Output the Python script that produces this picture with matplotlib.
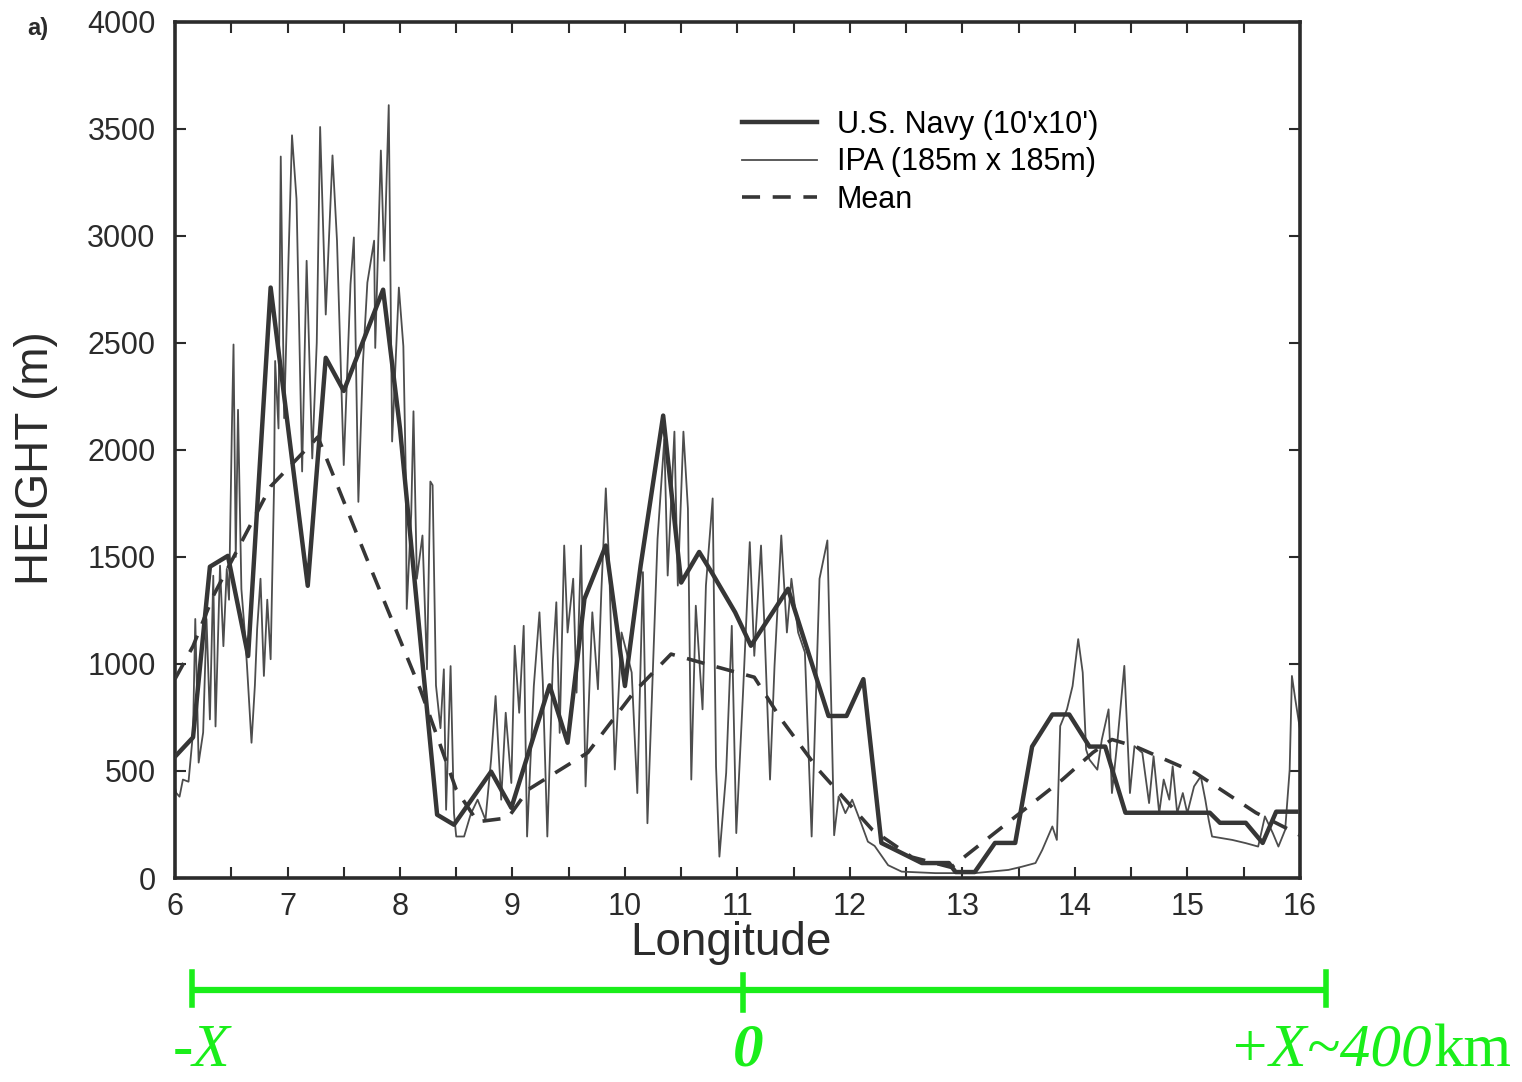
import matplotlib
matplotlib.use("Agg")
import matplotlib.pyplot as plt
from matplotlib.transforms import blended_transform_factory

# U.S. Navy (10'x10') profile
navy_lon = [6.00, 6.16, 6.31, 6.47, 6.65, 6.85, 7.18, 7.34, 7.50, 7.85, 8.00, 8.24,
            8.33, 8.48, 8.81, 8.99, 9.33, 9.49, 9.64, 9.83, 10.00, 10.14, 10.34, 10.50,
            10.66, 10.77, 10.98, 11.12, 11.45, 11.81, 11.97, 12.12, 12.28, 12.64, 12.88,
            12.94, 13.11, 13.29, 13.47, 13.62, 13.80, 13.95, 14.13, 14.27, 14.45, 14.75,
            15.20, 15.29, 15.52, 15.67, 15.79, 15.97]
navy_h = [567, 657, 1454, 1505, 1037, 2758, 1365, 2430, 2275, 2748, 2100, 788,
          296, 249, 497, 328, 900, 632, 1304, 1553, 897, 1460, 2160, 1380,
          1523, 1429, 1241, 1085, 1351, 757, 757, 929, 164, 70, 70,
          28, 28, 164, 164, 614, 764, 764, 614, 614, 305, 305,
          305, 258, 258, 164, 310, 310]

# IPA (185m x 185m) profile
ipa_lon = [6.00, 6.01, 6.04, 6.07, 6.12, 6.16, 6.18, 6.21, 6.25, 6.28, 6.31, 6.34, 6.36,
           6.40, 6.43, 6.46, 6.48, 6.505, 6.52, 6.54, 6.56, 6.59, 6.62, 6.64, 6.68, 6.71,
           6.73, 6.76, 6.79, 6.82, 6.85, 6.88, 6.89, 6.92, 6.94, 6.97, 7.01, 7.04, 7.08,
           7.13, 7.17, 7.22, 7.26, 7.29, 7.34, 7.40, 7.44, 7.50, 7.56, 7.59, 7.63, 7.67,
           7.71, 7.77, 7.78, 7.83, 7.86, 7.90, 7.93, 7.99, 8.03, 8.05, 8.06, 8.10, 8.12,
           8.15, 8.20, 8.24, 8.27, 8.29, 8.32, 8.36, 8.39, 8.41, 8.45, 8.48, 8.50, 8.54,
           8.57, 8.63, 8.69, 8.76, 8.81, 8.85, 8.90, 8.94, 8.99, 9.02, 9.06, 9.10, 9.13,
           9.19, 9.24, 9.27, 9.31, 9.36, 9.39, 9.42, 9.46, 9.49, 9.54, 9.57, 9.61, 9.65,
           9.71, 9.76, 9.79, 9.83, 9.86, 9.91, 9.97, 10.06, 10.11, 10.16, 10.20, 10.29,
           10.35, 10.38, 10.44, 10.47, 10.52, 10.56, 10.59, 10.63, 10.69, 10.72, 10.78,
           10.81, 10.84, 10.90, 10.95, 10.99, 11.05, 11.11, 11.15, 11.21, 11.24, 11.29,
           11.33, 11.39, 11.44, 11.48, 11.54, 11.60, 11.66, 11.73, 11.80, 11.84, 11.86,
           11.90, 11.96, 12.02, 12.10, 12.16, 12.22, 12.34, 12.46, 12.76, 13.11, 13.41,
           13.53, 13.65, 13.71, 13.80, 13.84, 13.87, 13.93, 13.98, 14.03, 14.07, 14.10,
           14.13, 14.20, 14.24, 14.30, 14.33, 14.38, 14.44, 14.49, 14.53, 14.60, 14.66,
           14.70, 14.75, 14.79, 14.84, 14.87, 14.91, 14.96, 15.00, 15.06, 15.12, 15.16,
           15.19, 15.22, 15.40, 15.52, 15.63, 15.69, 15.76, 15.81, 15.87, 15.91, 15.93,
           15.96, 16.00]
ipa_h = [420, 398, 380, 460, 450, 680, 1210, 539, 680, 1210, 741, 1412, 708,
         1459, 1083, 1444, 1300, 2087, 2492, 1500, 2187, 1350, 1150, 990, 632, 900,
         1163, 1398, 944, 1300, 1022, 1820, 2415, 2100, 3370, 2148, 2914, 3469, 3172,
         1899, 2883, 1960, 2500, 3508, 2632, 3375, 2977, 1929, 2773, 2992, 1757, 2400,
         2781, 2977, 2476, 3398, 2883, 3610, 2039, 2758, 2484, 1929, 1257, 1700, 2180,
         1398, 1600, 975, 1852, 1835, 900, 700, 975, 319, 990, 303, 194, 194,
         194, 300, 366, 272, 553, 850, 366, 772, 444, 1085, 772, 1178, 194,
         897, 1241, 913, 194, 1022, 1288, 678, 1553, 1147, 1398, 866, 1553, 428,
         1241, 882, 1335, 1820, 1460, 507, 1147, 960, 397, 1429, 256, 1585,
         2050, 1413, 2085, 1366, 2085, 1726, 460, 1272, 788, 1366, 1773,
         522, 100, 491, 1178, 210, 866, 1569, 1038, 1553, 1178, 460,
         991, 1600, 1147, 1398, 1147, 1054, 194, 1398, 1577, 678, 200,
         381, 303, 366, 256, 170, 150, 60, 30, 23, 23, 38,
         53, 70, 131, 241, 178, 710, 788, 897, 1116, 960, 600,
         553, 506, 647, 788, 397, 647, 991, 397, 616, 585, 350,
         569, 303, 460, 366, 522, 303, 397, 303, 428, 475, 366,
         272, 194, 178, 163, 147, 288, 210, 147, 225, 506, 944,
         835, 700]

# Mean profile
mean_lon = [6.00, 6.16, 6.34, 6.85, 7.27, 7.70, 8.18, 8.50, 8.69, 8.96, 9.14, 9.67,
            10.08, 10.41, 10.79, 11.15, 11.39, 11.72, 12.20, 12.55, 12.90, 13.47,
            13.89, 14.16, 14.33, 14.54, 15.07, 15.61, 15.91, 16.00]
mean_h = [930, 1083, 1318, 1829, 2060, 1498, 882, 413, 263, 281, 413, 586,
          868, 1046, 990, 938, 741, 506, 225, 98, 50, 286,
          460, 586, 647, 614, 492, 305, 225, 200]

xticks = list(range(6, 17))
yticks = list(range(0, 4001, 500))

# distance scale drawn under the axis
scale_lon = [6.15, 11.05, 16.23]
scale_labels = ["-X", "0", "+X~400"]

ink = "#2b2b2b"
green = "#1aee1a"

fig = plt.figure(figsize=(15.22, 10.82), dpi=100)
ax = fig.add_axes([0.115, 0.1885, 0.739, 0.7915])

ax.plot(ipa_lon, ipa_h, color="#4d4d4d", lw=1.3, label="IPA (185m x 185m)", zorder=2)
ax.plot(navy_lon, navy_h, color="#363636", lw=3.2, label="U.S. Navy (10'x10')", zorder=3)
ax.plot(mean_lon, mean_h, color="#363636", lw=2.6, dashes=(5, 3.5), label="Mean", zorder=3)

ax.set_xlim(6, 16)
ax.set_ylim(0, 4000)
ax.set_xticks(xticks)
ax.set_xticks([x + 0.5 for x in xticks[:-1]], minor=True)
ax.set_yticks(yticks)
ax.tick_params(which="both", direction="in", top=True, right=True, width=1.5,
               length=8, labelsize=22, colors=ink)
ax.tick_params(axis="x", pad=10)
ax.tick_params(axis="y", pad=14)
for lab in ax.get_xticklabels() + ax.get_yticklabels():
    lab.set_family("Liberation Sans")
for sp in ax.spines.values():
    sp.set_linewidth(2.6)
    sp.set_color(ink)

ax.set_xlabel("Longitude", fontsize=33, family="Liberation Sans", color=ink)
ax.xaxis.set_label_coords(0.494, -0.05)
ax.set_ylabel("HEIGHT (m)", fontsize=33, family="Liberation Sans", color=ink)
ax.yaxis.set_label_coords(-0.104, 0.49)

h, l = ax.get_legend_handles_labels()
order = [1, 0, 2]
ax.legend([h[i] for i in order], [l[i] for i in order], loc="upper left",
          bbox_to_anchor=(0.504, 0.897), frameon=False,
          handlelength=2.45, handletextpad=0.65, labelspacing=0.25,
          borderpad=0, borderaxespad=0, prop={"family": "Liberation Sans", "size": 22})

fig.text(0.018, 0.968, "a)", fontsize=17, fontweight="bold", family="Liberation Sans",
         color=ink)

# green scale bar
tr = blended_transform_factory(ax.transData, fig.transFigure)
y_bar = 1 - 990 / 1082
ax.plot([scale_lon[0], scale_lon[-1]], [y_bar, y_bar], transform=tr, color=green,
        lw=4.5, clip_on=False, solid_capstyle="butt")
for i, lon in enumerate(scale_lon):
    y0 = 1 - (1010 if i == 1 else 1005) / 1082
    y1 = 1 - (975 if i == 1 else 972) / 1082
    ax.plot([lon, lon], [y0, y1], transform=tr, color=green, lw=4, clip_on=False)

y_txt = 1 - 1051 / 1082
gfont = dict(color=green, fontsize=44, family="Liberation Serif", va="center",
             textcoords="offset points", xycoords=tr, annotation_clip=False)
ax.annotate(scale_labels[0], xy=(scale_lon[0], y_txt), xytext=(-14, 0), ha="left",
            style="italic", **gfont)
ax.annotate(scale_labels[1], xy=(scale_lon[1], y_txt), xytext=(4, 0), ha="center",
            style="italic", fontweight="bold", **gfont)
t3 = ax.annotate(scale_labels[2], xy=(scale_lon[2], y_txt), xytext=(-70, 0), ha="left",
                 style="italic", **gfont)
ax.annotate("km", xy=(1, 0.5), xycoords=t3, xytext=(1, 0), textcoords="offset points",
            color=green, fontsize=44, family="Liberation Serif", ha="left", va="center")

fig.savefig("out.png", dpi=100)
